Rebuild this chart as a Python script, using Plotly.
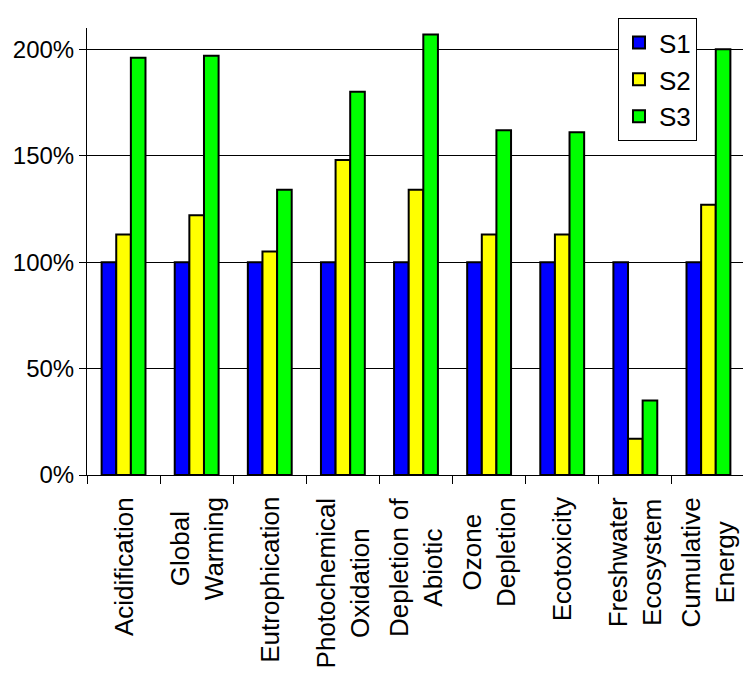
import plotly.graph_objects as go

categories = ["Acidification", "Global Warming", "Eutrophication", "Photochemical Oxidation",
              "Depletion of Abiotic", "Ozone Depletion", "Ecotoxicity",
              "Freshwater Ecosystem", "Cumulative Energy"]
tick_labels = ["Acidification", "Global<br>Warming", "Eutrophication", "Photochemical<br>Oxidation",
               "Depletion of<br>Abiotic", "Ozone<br>Depletion", "Ecotoxicity",
               "Freshwater<br>Ecosystem", "Cumulative<br>Energy"]
s1 = [1.00, 1.00, 1.00, 1.00, 1.00, 1.00, 1.00, 1.00, 1.00]
s2 = [1.13, 1.22, 1.05, 1.48, 1.34, 1.13, 1.13, 0.17, 1.27]
s3 = [1.96, 1.97, 1.34, 1.80, 2.07, 1.62, 1.61, 0.35, 2.00]
series_names = ["S1", "S2", "S3"]
colors = ["#0000FF", "#FFFF00", "#00FF00"]

FONT = "Liberation Sans, Arial, sans-serif"

fig = go.Figure()
for name, vals, col in zip(series_names, [s1, s2, s3], colors):
    fig.add_trace(go.Bar(
        x=categories, y=vals, name=name,
        marker=dict(color=col, line=dict(color="black", width=2)),
    ))

for cat, lab in zip(categories, tick_labels):
    fig.add_annotation(
        x=cat, y=0, xref="x", yref="paper", text=lab, showarrow=False,
        textangle=-90, xanchor="center", yanchor="top", yshift=-20,
        align="center", font=dict(family=FONT, size=26, color="black"),
    )

fig.update_layout(
    width=743, height=676,
    margin=dict(l=79, r=6, t=20, b=209, autoexpand=False),
    paper_bgcolor="white", plot_bgcolor="white",
    barmode="group", bargap=0.4, bargroupgap=0,
    font=dict(family=FONT, size=24, color="black"),
    legend=dict(
        x=0.807, y=1.022, xanchor="left", yanchor="top",
        bgcolor="white", bordercolor="black", borderwidth=1,
        font=dict(family=FONT, size=26, color="black"),
        itemwidth=30,
    ),
    showlegend=True,
)
fig.update_xaxes(
    showticklabels=False, tickson="boundaries", ticks="outside", ticklen=8,
    tickcolor="black", showline=True, linecolor="black", linewidth=1,
    showgrid=False, zeroline=False, automargin=False,
)
fig.update_yaxes(
    range=[0, 2.1], tickvals=[0, 0.5, 1.0, 1.5, 2.0],
    ticktext=["0%", "50%", "100%", "150%", "200%"],
    ticks="outside", ticklen=7, tickcolor="black",
    showline=True, linecolor="black", linewidth=1,
    showgrid=True, gridcolor="black", gridwidth=1, zeroline=False,
    tickfont=dict(family=FONT, size=24, color="black"), automargin=False,
)

fig.write_html("out.html")
